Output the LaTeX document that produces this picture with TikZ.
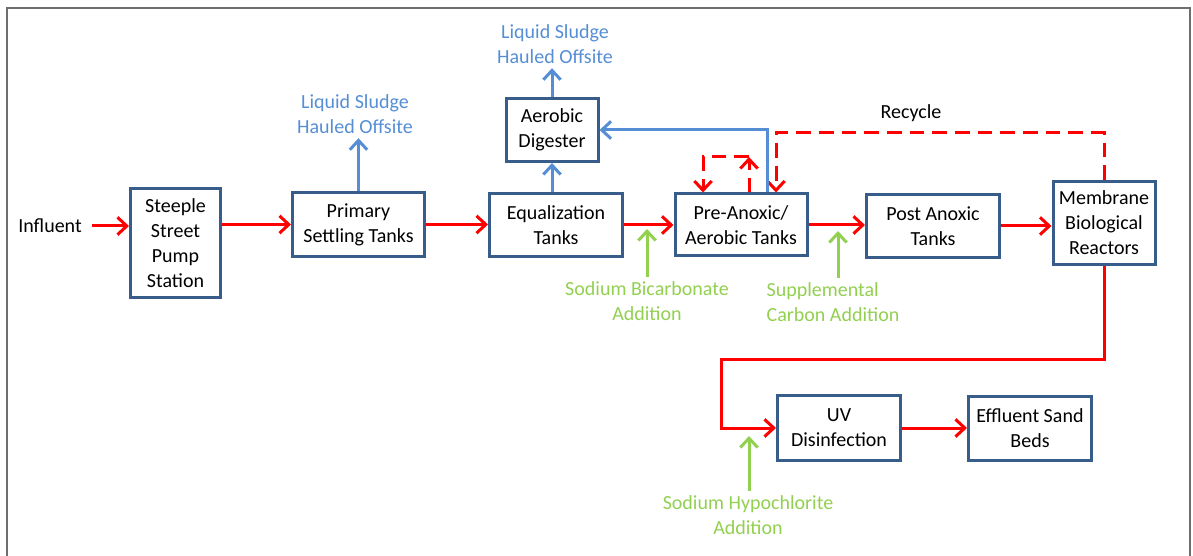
\documentclass[tikz,border=0pt]{standalone}
\usepackage{fontspec}
\setmainfont{Carlito}
\usetikzlibrary{arrows.meta}
\definecolor{boxblue}{HTML}{385D8A}
\definecolor{sludgeblue}{HTML}{558ED5}
\definecolor{addgreen}{HTML}{92D050}
\definecolor{framegray}{HTML}{6E6E6E}
\begin{document}
\begin{tikzpicture}[x=.75pt,y=-.75pt,font=\fontsize{15}{18.75}\selectfont,
  tank/.style={draw=boxblue,line width=2.25pt,fill=white,align=center,inner sep=0pt},
  flow/.style={draw=red,line width=2.25pt,-{Straight Barb[length=7pt,width=13pt]}},
  recycle/.style={flow,dash pattern=on 11pt off 6pt},
  sludge/.style={draw=sludgeblue,line width=2.25pt,-{Straight Barb[length=7pt,width=13pt]}},
  feed/.style={draw=addgreen,line width=2.25pt,-{Straight Barb[length=7pt,width=13pt]}},
  sludgetxt/.style={text=sludgeblue,align=center},
  addtxt/.style={text=addgreen,align=center}]
\useasboundingbox (0,0) rectangle (1193,556);
\draw[framegray,line width=1.5pt] (7,556)--(7,8)--(1190,8)--(1190,556);
\node[tank,minimum width=67.5pt,minimum height=81.75pt] (pump) at (175.5,243) {Steeple\\Street\\Pump\\Station};
\node[tank,minimum width=99pt,minimum height=48pt] (primary) at (358.5,224.5) {Primary\\Settling Tanks};
\node[tank,minimum width=99.75pt,minimum height=47.25pt] (equal) at (556,225) {Equalization\\Tanks};
\node[tank,minimum width=69pt,minimum height=47.25pt] (dig) at (552,130) {Aerobic\\Digester};
\node[tank,minimum width=99pt,minimum height=46.5pt] (pre) at (741,225) {Pre-Anoxic/\\Aerobic Tanks};
\node[tank,minimum width=99.75pt,minimum height=47.25pt] (post) at (933,226) {Post Anoxic\\Tanks};
\node[tank,minimum width=76.5pt,minimum height=62.25pt] (mbr) at (1104,223) {Membrane\\Biological\\Reactors};
\node[tank,minimum width=92.25pt,minimum height=48.75pt] (uv) at (839,428) {UV\\Disinfection};
\node[tank,minimum width=92.25pt,minimum height=48pt] (sand) at (1030,428) {Effluent Sand\\Beds};
\node (infl) at (50,226) {Influent};\node (rlab) at (911,113) {Recycle};
\node[sludgetxt] (haul1) at (355,114) {Liquid Sludge\\Hauled Offsite};
\node[sludgetxt] (haul2) at (555,44) {Liquid Sludge\\Hauled Offsite};
\node[addtxt] (bicarb) at (647,301) {Sodium Bicarbonate\\Addition};
\node[addtxt,align=left,anchor=west] (carbon) at (762,302) {Supplemental\\Carbon Addition};
\node[addtxt] (hypo) at (748,515) {Sodium Hypochlorite\\Addition};
\coordinate (bend) at (721,359);\coordinate (rtop) at (776,133);
\coordinate (loopa) at (749,157);\coordinate (loopb) at (703,157);
\coordinate (bicarbin) at (647,229);\coordinate (carbonin) at (838,231);\coordinate (hypoin) at (749,436);
\draw[flow] ([xshift=4pt]infl.east) -- (pump.west |- infl);
\draw[flow] (pump.east |- primary) -- (primary.west);
\draw[flow] (primary.east) -- (primary.east -| equal.west);
\draw[flow] (equal.east) -- (pre.west);
\draw[flow] (pre.east) -- (pre.east -| post.west);
\draw[flow] (post.east) -- (post.east -| mbr.west);
\draw[flow] (mbr.south) |- (bend) |- (uv.west);
\draw[flow] (uv.east) -- (sand.west);
\draw[recycle] (mbr.north) |- (rtop) -- (rtop |- pre.north);
\draw[recycle] (loopa |- pre.north) -- (loopa);
\draw[recycle] (loopa) -- (loopb) -- (loopb |- pre.north);
\draw[sludge] (primary.north) -- (primary.north |- haul1.south);
\draw[sludge] (dig.north) -- (dig.north |- haul2.south);
\draw[sludge] (dig.south |- equal.north) -- (dig.south);
\draw[sludge] ([xshift=19.5pt]pre.north) |- (dig.east);
\draw[feed] (bicarb.north) -- (bicarbin);
\draw[feed] (carbonin |- carbon.north) -- (carbonin);
\draw[feed] (hypoin |- hypo.north) -- (hypoin);
\end{tikzpicture}
\end{document}
